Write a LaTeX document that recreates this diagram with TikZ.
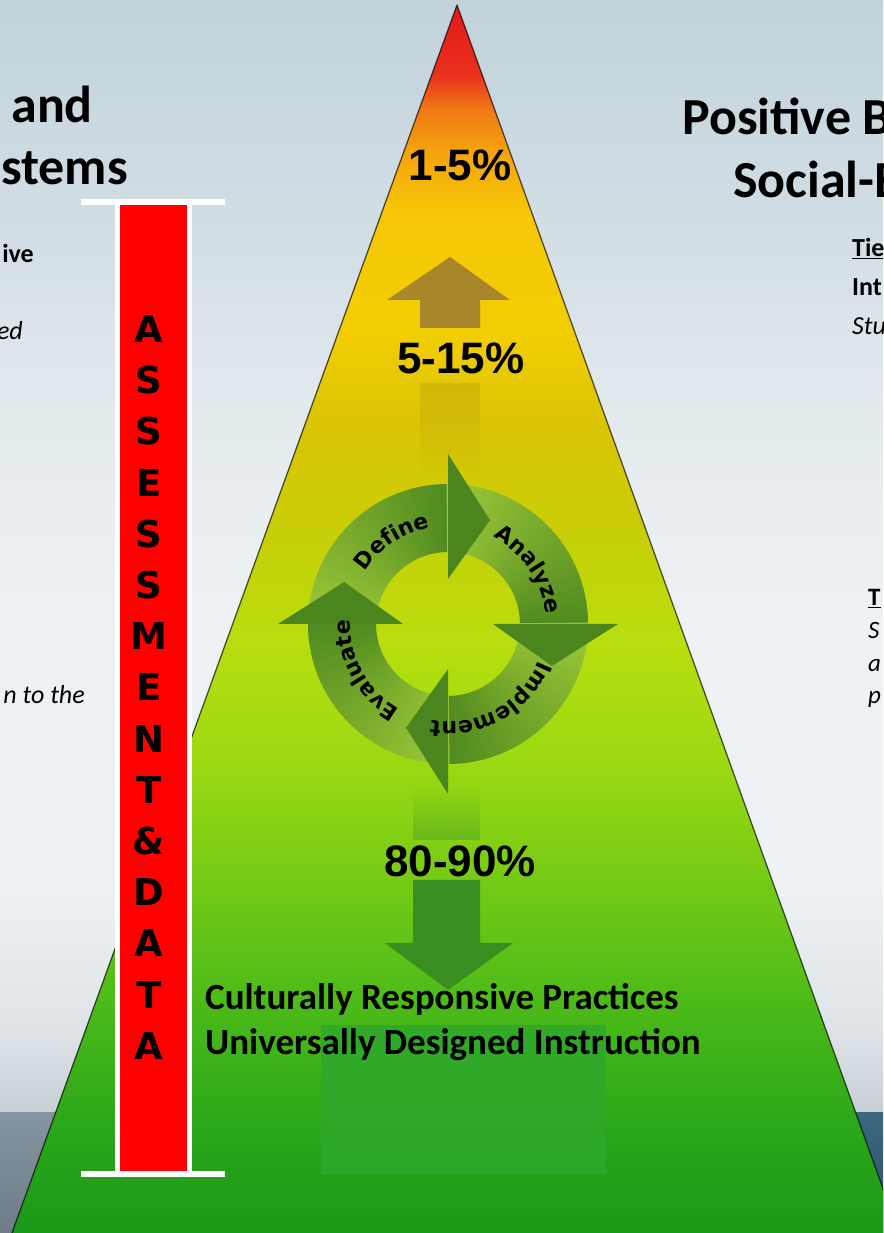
\documentclass[tikz,border=0pt]{standalone}
\usepackage{fontspec}
\setmainfont{Carlito}
\newfontfamily\arialf{Liberation Sans}
\newfontfamily\letterf{DejaVu Sans}
\usetikzlibrary{decorations.text,fadings}

\definecolor{p0}{HTML}{1A9817}
\definecolor{p1}{HTML}{2CA81A}
\definecolor{p2}{HTML}{4DBB18}
\definecolor{p3}{HTML}{6FC816}
\definecolor{p4}{HTML}{9CD912}
\definecolor{p5}{HTML}{B8DE0E}
\definecolor{p6}{HTML}{C8CE08}
\definecolor{p7}{HTML}{DCC404}
\definecolor{p8}{HTML}{F2CE04}
\definecolor{p9}{HTML}{F6C606}
\definecolor{p10}{HTML}{F4A20E}
\definecolor{p11}{HTML}{F07A16}
\definecolor{p12}{HTML}{E8301C}
\definecolor{p13}{HTML}{E41A1A}
\pgfdeclareverticalshading{pyr}{100bp}{color(0bp)=(p0); color(25bp)=(p0); color(29.6bp)=(p1); color(34.49bp)=(p2); color(38.56bp)=(p3); color(44.26bp)=(p4); color(49.15bp)=(p5); color(53.63bp)=(p6); color(58.1bp)=(p7); color(61.77bp)=(p8); color(66.65bp)=(p9); color(69.1bp)=(p10); color(70.73bp)=(p11); color(72.15bp)=(p12); color(75bp)=(p13); color(100bp)=(p13)}

\definecolor{b0}{HTML}{C7CFD5}
\definecolor{b1}{HTML}{DDE3E7}
\definecolor{b2}{HTML}{EFF2F4}
\definecolor{b3}{HTML}{EEF2F4}
\definecolor{b4}{HTML}{E4EBEF}
\definecolor{b5}{HTML}{D2DEE4}
\definecolor{b6}{HTML}{C2D2DB}
\pgfdeclareverticalshading{bgsh}{100bp}{color(0bp)=(b0); color(25bp)=(b0); color(28.59bp)=(b1); color(35.33bp)=(b2); color(46.56bp)=(b3); color(55.55bp)=(b4); color(64.53bp)=(b5); color(75bp)=(b6); color(100bp)=(b6)}

\definecolor{bandlt}{HTML}{8494A0}
\definecolor{bandlb}{HTML}{6E7C87}
\definecolor{bandrt}{HTML}{3B6780}
\definecolor{bandrb}{HTML}{2A5068}
\definecolor{barred}{HTML}{FF0000}
\definecolor{uparrow}{HTML}{A8862A}
\definecolor{upfade}{HTML}{9A8A10}
\definecolor{downarrow}{HTML}{3A8E20}
\definecolor{clight}{HTML}{9CC737}
\definecolor{cdark}{HTML}{528C20}
\definecolor{chead}{HTML}{4A861D}
\definecolor{glowbox}{HTML}{2FA82B}

\newcommand\cycf{\letterf\bfseries\fontsize{22}{22}\selectfont}

\tikzset{
  title/.style={inner sep=0pt, font=\bfseries\fontsize{52}{52}\selectfont},
  side/.style={inner sep=0pt, font=\fontsize{26}{26}\selectfont},
  sidelow/.style={inner sep=0pt, font=\fontsize{25}{25}\selectfont},
  pct/.style={inner sep=0pt, font=\arialf\bfseries\fontsize{44}{44}\selectfont},
  barletter/.style={inner sep=0pt, font=\letterf\bfseries\fontsize{37}{37}\selectfont},
  base/.style={inner sep=0pt, font=\bfseries\fontsize{37}{37}\selectfont},
  cyctext/.style={decorate, decoration={text along path, text align=center, text={|\cycf|#1}}}
}

\begin{document}
\begin{tikzpicture}[x=1pt,y=1pt]
\useasboundingbox (0,0) rectangle (883,1233);
\clip (0,0) rectangle (883,1233);

% background
\fill[shading=bgsh] (0,120) rectangle (883,1233);
\fill[top color=bandlt, bottom color=bandlb] (0,0) rectangle (450,120);
\fill[top color=bandrt, bottom color=bandrb] (450,0) rectangle (883,120);

% pyramid
\fill[shading=pyr] (12,0) -- (457,1228) -- (899,0) -- cycle;
\draw[black, opacity=0.6, line width=1.3pt, line join=round] (12,0) -- (457,1228) -- (899,0);

% bottom box
\fill[glowbox, opacity=0.85] (321,58) rectangle (606,208);

% up arrow
\fill[upfade, opacity=0.25, path fading=south] (420,755) rectangle (480,850);
\fill[uparrow] (420,905) -- (420,933) -- (387,933) -- (450,976) -- (510,933) -- (480,933) -- (480,905) -- cycle;

% down arrow
\fill[downarrow, opacity=0.35, path fading=north] (413,393) rectangle (480,445);
\fill[downarrow] (413,353) -- (413,290) -- (385,290) -- (448,243) -- (513,290) -- (480,290) -- (480,353) -- cycle;

% cycle bodies
\def\cx{448}\def\cy{609}
\foreach \a in {180,90,0,-90}{
  \foreach \j in {0,...,29}{
    \pgfmathsetmacro\sa{\a-3*\j+0.6}
    \pgfmathsetmacro\ea{\a-3*\j-3}
    \pgfmathsetmacro\pc{100*\j/29}
    \fill[cdark!\pc!clight] ([shift={(\cx,\cy)}]\sa:140) arc[start angle=\sa, end angle=\ea, radius=140]
      -- ([shift={(\cx,\cy)}]\ea:72) arc[start angle=\ea, end angle=\sa, radius=72] -- cycle;
  }
}
% cycle heads
\foreach \a in {90,0,-90,180}{
  \pgfmathsetmacro\t{\a-22}
  \fill[chead] ([shift={(\cx,\cy)}]\a:45) -- ([shift={(\cx,\cy)}]\a:170) -- ([shift={(\cx,\cy)}]\t:112) -- cycle;
}
% cycle labels
\path[cyctext=Define] ([shift={(\cx,\cy)}]169:98) arc[start angle=169, end angle=79, radius=98];
\path[cyctext=Analyze] ([shift={(\cx,\cy)}]79:98) arc[start angle=79, end angle=-11, radius=98];
\path[cyctext=Implement] ([shift={(\cx,\cy)}]-16:98) arc[start angle=-16, end angle=-106, radius=98];
\path[cyctext=Evaluate] ([shift={(\cx,\cy)}]-106:98) arc[start angle=-106, end angle=-196, radius=98];

% percentages
\node[pct] (p1) at (460,1068) {1-5\%};
\node[pct] (p2) at (461,875) {5-15\%};
\node[pct] (p3) at (460,372) {80-90\%};

% base texts
\node[base, anchor=base west] (crp) at (205,223) {Culturally Responsive Practices};
\node[base, anchor=base west] (udi) at (205,178) {Universally Designed Instruction};

% assessment bar
\fill[white] (115,62) rectangle (192,1028);
\fill[barred] (119.5,62) rectangle (187,1028);
\fill[white] (81,1028) rectangle (225,1034);
\fill[white] (81,56) rectangle (225,62);
\foreach \l [count=\k from 0] in {A,S,S,E,S,S,M,E,N,T,\&,D,A,T,A}{
  \node[barletter] (L\k) at (149,904-51.2*\k) {\l};
}

% titles
\node[title, anchor=base east] (tl1) at (93,1110) {and};
\node[title, anchor=base east] (tl2) at (128,1048) {stems};
\node[title, anchor=base west] (tr1) at (682,1098) {Positive B};
\node[title, anchor=base west] (tr2) at (733,1035) {Social-E};

% side texts left
\node[side, anchor=base east, font=\bfseries\fontsize{26}{26}\selectfont] (sl1) at (34,970) {ive};
\node[side, anchor=base east, font=\itshape\fontsize{26}{26}\selectfont] (sl2) at (23,893) {ed};
\node[side, anchor=base east, font=\itshape\fontsize{26}{26}\selectfont] (sl3) at (85,529) {n to the};

% side texts right
\node[side, anchor=base west, font=\bfseries\fontsize{26}{26}\selectfont] (sr1) at (852,976) {\underline{Tie}};
\node[side, anchor=base west, font=\bfseries\fontsize{26}{26}\selectfont] (sr2) at (852,937) {Int};
\node[side, anchor=base west, font=\itshape\fontsize{26}{26}\selectfont] (sr3) at (852,898) {Stu};
\node[sidelow, anchor=base west, font=\bfseries\fontsize{25}{25}\selectfont] (sr4) at (868,627) {\underline{T}};
\node[sidelow, anchor=base west, font=\itshape\fontsize{25}{25}\selectfont] (sr5) at (868,594) {S};
\node[sidelow, anchor=base west, font=\itshape\fontsize{25}{25}\selectfont] (sr6) at (868,561) {a};
\node[sidelow, anchor=base west, font=\itshape\fontsize{25}{25}\selectfont] (sr7) at (868,529) {p};
\end{tikzpicture}
\end{document}
